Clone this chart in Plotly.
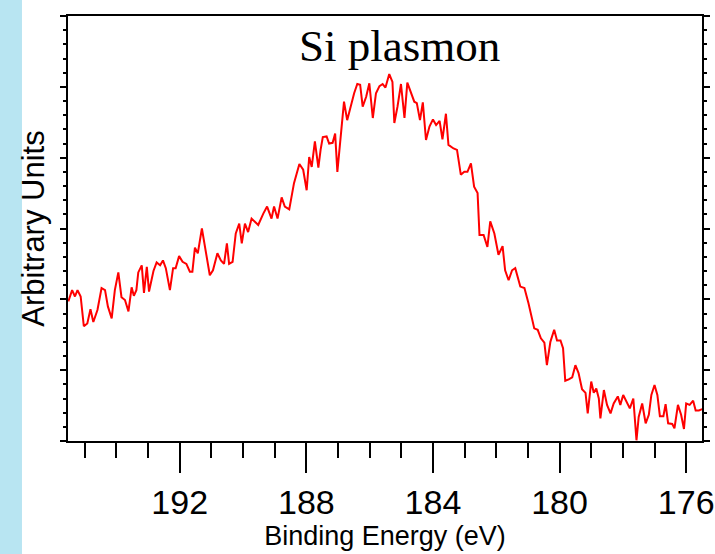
import plotly.graph_objects as go

# Binding energy (eV)
energy = [
    195.52, 195.40, 195.31, 195.23, 195.13, 195.03, 194.92, 194.82, 194.73, 194.60,
    194.47, 194.36, 194.27, 194.15, 194.05, 193.94, 193.84, 193.73, 193.62, 193.52,
    193.45, 193.37, 193.31, 193.20, 193.13, 193.04, 192.97, 192.89, 192.83, 192.73,
    192.62, 192.53, 192.44, 192.31, 192.21, 192.13, 192.02, 191.91, 191.79, 191.68,
    191.60, 191.52, 191.43, 191.30, 191.20, 191.05, 190.95, 190.81, 190.70, 190.60,
    190.51, 190.44, 190.33, 190.23, 190.12, 190.04, 189.94, 189.84, 189.73, 189.63,
    189.52, 189.36, 189.24, 189.10, 189.02, 188.91, 188.78, 188.68, 188.54, 188.39,
    188.22, 188.10, 187.99, 187.91, 187.83, 187.73, 187.62, 187.55, 187.48, 187.36,
    187.28, 187.17, 187.09, 187.02, 186.94, 186.81, 186.71, 186.60, 186.49, 186.39,
    186.30, 186.22, 186.11, 186.01, 185.90, 185.80, 185.69, 185.59, 185.50, 185.38,
    185.28, 185.22, 185.12, 185.01, 184.90, 184.81, 184.70, 184.59, 184.51, 184.41,
    184.32, 184.22, 184.11, 184.00, 183.90, 183.79, 183.70, 183.59, 183.51, 183.35,
    183.24, 183.12, 183.01, 182.91, 182.80, 182.70, 182.59, 182.53, 182.40, 182.28,
    182.19, 182.06, 181.93, 181.80, 181.72, 181.61, 181.50, 181.40, 181.24, 181.11,
    180.98, 180.87, 180.80, 180.69, 180.59, 180.48, 180.40, 180.29, 180.17, 180.08,
    179.97, 179.89, 179.82, 179.71, 179.60, 179.50, 179.40, 179.29, 179.18, 179.11,
    179.00, 178.92, 178.84, 178.76, 178.71, 178.60, 178.50, 178.39, 178.29, 178.16,
    178.08, 177.99, 177.89, 177.78, 177.67, 177.57, 177.50, 177.39, 177.28, 177.18,
    177.10, 177.00, 176.91, 176.83, 176.72, 176.65, 176.57, 176.44, 176.37, 176.26,
    176.16, 176.07, 176.00, 175.89, 175.78, 175.70, 175.60, 175.49,
]

# Intensity (arbitrary units)
intensity = [
    1.97, 2.13, 2.04, 2.13, 2.04, 1.62, 1.66, 1.86, 1.68, 1.85,
    2.16, 2.13, 1.90, 1.73, 2.13, 2.38, 2.03, 1.99, 1.83, 2.17,
    2.05, 2.13, 2.38, 2.48, 2.09, 2.46, 2.11, 2.27, 2.40, 2.52,
    2.48, 2.55, 2.44, 2.13, 2.44, 2.44, 2.61, 2.53, 2.50, 2.39,
    2.39, 2.73, 2.65, 3.00, 2.72, 2.34, 2.41, 2.65, 2.55, 2.50,
    2.79, 2.50, 2.53, 2.93, 3.07, 2.79, 3.07, 2.95, 3.14, 3.10,
    3.05, 3.21, 3.31, 3.14, 3.31, 3.14, 3.44, 3.31, 3.27, 3.64,
    3.91, 3.83, 3.54, 4.01, 3.87, 4.23, 3.86, 4.11, 4.29, 4.30,
    4.20, 4.21, 4.34, 3.80, 4.20, 4.79, 4.53, 4.72, 4.91, 5.04,
    5.03, 4.72, 4.86, 5.05, 4.56, 4.91, 5.01, 5.04, 4.99, 5.18,
    5.07, 4.49, 4.72, 5.04, 4.56, 5.06, 4.93, 4.79, 4.77, 4.53,
    4.78, 4.25, 4.44, 4.54, 4.46, 4.52, 4.26, 4.62, 4.18, 4.13,
    4.11, 3.76, 3.80, 3.80, 3.92, 3.59, 3.50, 2.91, 2.91, 2.74,
    3.10, 2.93, 2.63, 2.75, 2.41, 2.27, 2.41, 2.44, 2.18, 2.16,
    1.94, 1.75, 1.59, 1.57, 1.45, 1.39, 1.07, 1.40, 1.57, 1.42,
    1.42, 1.31, 0.85, 0.87, 0.90, 1.07, 0.96, 0.73, 0.68, 0.39,
    0.84, 0.68, 0.74, 0.60, 0.32, 0.72, 0.51, 0.39, 0.53, 0.63,
    0.51, 0.65, 0.55, 0.46, 0.60, 0.01, 0.34, 0.53, 0.25, 0.37,
    0.65, 0.79, 0.65, 0.35, 0.35, 0.52, 0.25, 0.24, 0.18, 0.51,
    0.37, 0.17, 0.53, 0.51, 0.57, 0.43, 0.43, 0.45,
]

x_tick_values = [192, 188, 184, 180, 176]
x_tick_labels = ["192", "188", "184", "180", "176"]

title_text = "Si plasmon"
x_title = "Binding Energy (eV)"
y_title = "Arbitrary Units"

fig = go.Figure()
fig.add_trace(go.Scatter(
    x=energy, y=intensity, mode="lines",
    line=dict(color="#ff0000", width=2),
    showlegend=False, hoverinfo="skip",
))

sans = "Liberation Sans, Arial, sans-serif"

fig.update_layout(
    width=715, height=554,
    margin=dict(l=68, r=13, t=16, b=113, autoexpand=False),
    paper_bgcolor="white", plot_bgcolor="white",
    xaxis=dict(
        range=[195.53, 175.5], automargin=False,
        showgrid=False, zeroline=False,
        showline=True, linecolor="black", linewidth=2, mirror=True,
        ticks="outside", ticklen=30, tickwidth=2, tickcolor="black",
        tickvals=x_tick_values, ticktext=x_tick_labels,
        tickfont=dict(family=sans, size=34, color="black"),
        minor=dict(dtick=1, ticks="outside", ticklen=15, tickwidth=2, tickcolor="black", showgrid=False),
        title=dict(text=x_title, font=dict(family=sans, size=27, color="black"), standoff=4),
    ),
    yaxis=dict(
        range=[0, 6], automargin=False,
        showgrid=False, zeroline=False,
        showline=True, linecolor="black", linewidth=2, mirror="ticks",
        ticks="outside", ticklen=6, tickwidth=2, tickcolor="black",
        dtick=1, showticklabels=False,
        minor=dict(dtick=0.2, ticks="outside", ticklen=3, tickwidth=2, tickcolor="black", showgrid=False),
        title=dict(text=y_title, font=dict(family=sans, size=31, color="black"), standoff=6),
    ),
    shapes=[dict(
        type="rect", xref="paper", yref="paper",
        x0=-0.1075, x1=-0.0726, y0=-0.27, y1=1.04,
        fillcolor="#b8e5f2", line=dict(width=0), layer="below",
    )],
    annotations=[dict(
        text=title_text, xref="paper", yref="paper",
        x=0.5225, y=0.93, xanchor="center", yanchor="middle",
        showarrow=False,
        font=dict(family="Liberation Serif, Times New Roman, serif", size=45, color="black"),
    )],
)

fig.write_html("out.html")
